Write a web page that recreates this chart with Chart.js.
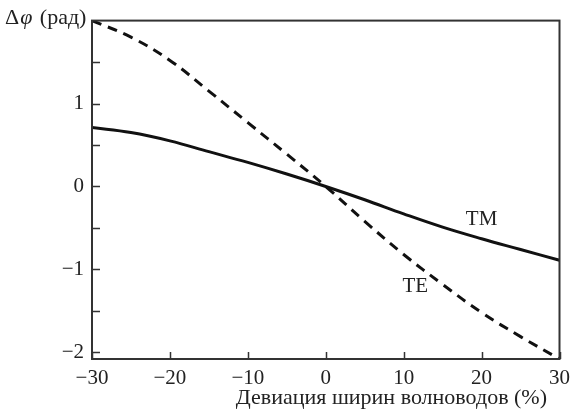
<!DOCTYPE html>
<html>
<head>
<meta charset="utf-8">
<script src="https://cdn.jsdelivr.net/npm/chart.js@4/dist/chart.umd.min.js"></script>
<style>
  html, body { margin: 0; padding: 0; background: #fff; }
  #wrap { width: 577px; height: 414px; }
</style>
</head>
<body>
<div id="wrap"><canvas id="chart" width="577" height="414"></canvas></div>
<script>
// deviation of waveguide widths, %
const deviation = [-30, -25, -20, -15, -10, -5, 0, 5, 10, 15, 20, 25, 30];
// phase difference, rad
const tmPhase = [0.71, 0.65, 0.55, 0.42, 0.29, 0.15, 0.0, -0.16, -0.33, -0.49, -0.63, -0.76, -0.89];
const tePhase = [2.00, 1.80, 1.52, 1.15, 0.77, 0.39, 0.0, -0.42, -0.82, -1.18, -1.52, -1.81, -2.08];

const xTicks = [-30, -20, -10, 0, 10, 20, 30];
const yTicks = [-2, -1.5, -1, -0.5, 0, 0.5, 1, 1.5];
const yLabels = [-2, -1, 0, 1];

const xName = "\u0414\u0435\u0432\u0438\u0430\u0446\u0438\u044f \u0448\u0438\u0440\u0438\u043d \u0432\u043e\u043b\u043d\u043e\u0432\u043e\u0434\u043e\u0432 (%)";

const curveLabels = [
  { text: "TM", x: 20, y: -0.40 },
  { text: "TE", x: 11.5, y: -1.2 }
];

const serif = "'Liberation Serif', 'DejaVu Serif', serif";
const ink = "#222";

const fmt = v => (v < 0 ? "\u2212" + Math.abs(v) : String(v));

const toPoints = (xs, ys) => xs.map((x, i) => ({ x: x, y: ys[i] }));

// frame, inward ticks, axis names and curve captions
const decor = {
  id: "decor",
  afterDraw(chart) {
    const { ctx, chartArea: a, scales } = chart;
    const xs = scales.x, ys = scales.y;
    ctx.save();
    ctx.strokeStyle = "#333";
    ctx.lineWidth = 2;
    ctx.strokeRect(a.left, a.top, a.right - a.left, a.bottom - a.top);

    ctx.lineWidth = 1.5;
    ctx.beginPath();
    xTicks.forEach(v => {
      const px = Math.round(xs.getPixelForValue(v)) + 0.5;
      ctx.moveTo(px, a.bottom);
      ctx.lineTo(px, a.bottom - 7);
    });
    yTicks.forEach(v => {
      const py = Math.round(ys.getPixelForValue(v)) + 0.5;
      ctx.moveTo(a.left, py);
      ctx.lineTo(a.left + 8, py);
    });
    ctx.stroke();

    // y axis name
    ctx.fillStyle = ink;
    ctx.textBaseline = "alphabetic";
    ctx.textAlign = "left";
    ctx.font = "22px " + serif;
    let x0 = 5, base = 24;
    ctx.fillText("\u0394", x0, base);
    x0 += ctx.measureText("\u0394").width + 1;
    ctx.font = "italic 22px " + serif;
    ctx.fillText("\u03C6", x0, base);
    x0 += ctx.measureText("\u03C6").width + 2;
    ctx.font = "22px " + serif;
    ctx.fillText(" (\u0440\u0430\u0434)", x0, base);

    // x axis name
    ctx.textAlign = "right";
    ctx.textBaseline = "middle";
    ctx.fillText(xName, 547, 398);

    // curve captions
    ctx.font = "21px " + serif;
    ctx.textAlign = "center";
    curveLabels.forEach(l => {
      ctx.fillText(l.text, xs.getPixelForValue(l.x), ys.getPixelForValue(l.y));
    });
    ctx.restore();
  }
};

new Chart(document.getElementById("chart"), {
  type: "line",
  data: {
    datasets: [
      {
        label: "TM",
        data: toPoints(deviation, tmPhase),
        borderColor: "#111",
        borderWidth: 3,
        pointRadius: 0,
        tension: 0.4,
        fill: false
      },
      {
        label: "TE",
        data: toPoints(deviation, tePhase),
        borderColor: "#111",
        borderWidth: 3,
        borderDash: [10, 7],
        pointRadius: 0,
        tension: 0.4,
        fill: false
      }
    ]
  },
  options: {
    responsive: false,
    animation: false,
    devicePixelRatio: 1,
    layout: { padding: { left: 0, right: 14, top: 13, bottom: 0 } },
    plugins: {
      legend: { display: false },
      tooltip: { enabled: false }
    },
    scales: {
      x: {
        type: "linear",
        min: -30,
        max: 30,
        afterBuildTicks: s => { s.ticks = xTicks.map(v => ({ value: v })); },
        afterFit: s => { s.height = 55; },
        grid: { display: false, drawTicks: false },
        border: { display: false },
        ticks: {
          color: ink,
          padding: 7,
          font: { family: serif, size: 21 },
          maxRotation: 0,
          callback: v => fmt(v)
        }
      },
      y: {
        type: "linear",
        min: -2.08,
        max: 2.0,
        afterBuildTicks: s => { s.ticks = yLabels.map(v => ({ value: v })); },
        afterFit: s => { s.width = 92; },
        grid: { display: false, drawTicks: false },
        border: { display: false },
        ticks: {
          color: ink,
          padding: 8,
          font: { family: serif, size: 21 },
          callback: v => fmt(v)
        }
      }
    }
  },
  plugins: [decor]
});
</script>
</body>
</html>
